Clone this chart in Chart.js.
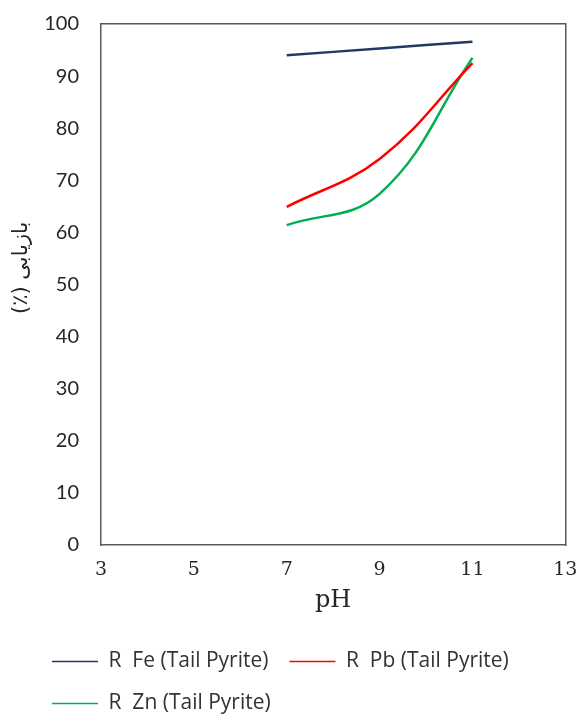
<!DOCTYPE html>
<html>
<head>
<meta charset="utf-8">
<script src="https://cdn.jsdelivr.net/npm/chart.js@4/dist/chart.umd.min.js"></script>
<style>
  html, body { margin: 0; padding: 0; background: #fff; overflow: hidden; }
  #wrap { position: absolute; left: 0; top: -10px; width: 591px; height: 728px; }
</style>
</head>
<body>
<div id="wrap"><canvas id="chart"></canvas></div>
<script>
// pH-Werte und Ausbeuten
const phWerte = [7, 9, 11];
const feAusbeute = [94.0, 95.3, 96.6];
const pbAusbeute = [64.9, 74.1, 92.5];
const znAusbeute = [61.4, 67.4, 93.5];

const serienNamen = ["R  Fe (Tail Pyrite)", "R  Pb (Tail Pyrite)", "R  Zn (Tail Pyrite)"];
const serienFarben = ["#1f3864", "#ff0000", "#00b050"];

const xTicks = [3, 5, 7, 9, 11, 13];
const yTicks = [0, 10, 20, 30, 40, 50, 60, 70, 80, 90, 100];

// Achsentitel rechts-nach-links (RLE ... PDF), vorne Leerzeichen zum Verschieben
const yTitel = "     \u202Bبازیابی (٪)\u202C";

function punkte(werte) {
  return phWerte.map(function (ph, i) {
    return { x: ph, y: werte[i] };
  });
}

const alleWerte = [feAusbeute, pbAusbeute, znAusbeute];
const datasets = alleWerte.map(function (werte, i) {
  return {
    label: serienNamen[i],
    data: punkte(werte),
    borderColor: serienFarben[i],
    backgroundColor: serienFarben[i],
    borderWidth: 2.5,
    showLine: true,
    pointRadius: 0,
    tension: 0.4,
  };
});

// Legende nach links schieben wie im Original
const legendeVerschieben = {
  id: "legendeVerschieben",
  afterLayout(chart) {
    chart.legend.left = 31;
  },
};

const rahmen = "#595959";

new Chart(document.querySelector("#chart"), {
  type: "scatter",
  data: { datasets: datasets },
  plugins: [legendeVerschieben],
  options: {
    responsive: true,
    maintainAspectRatio: false,
    animation: false,
    layout: { padding: { left: 9, right: 6, top: 2, bottom: -6 } },
    plugins: {
      tooltip: { enabled: false },
      legend: {
        position: "bottom",
        align: "start",
        labels: {
          usePointStyle: true,
          pointStyle: "line",
          pointStyleWidth: 46,
          padding: 21,
          color: "#333333",
          font: { family: "Open Sans", size: 21 },
          generateLabels(chart) {
            const items = Chart.defaults.plugins.legend.labels.generateLabels(chart);
            items.forEach(function (item) {
              item.lineWidth = 1.5;
            });
            return items;
          },
        },
      },
    },
    scales: {
      x: {
        type: "linear",
        min: 3,
        max: 13,
        afterBuildTicks(axis) {
          axis.ticks = xTicks.map(function (v) { return { value: v }; });
        },
        grid: { display: false, drawTicks: false },
        border: { display: true, color: rahmen, width: 1.5 },
        ticks: {
          padding: 13.6,
          color: "#262626",
          font: { family: "DejaVu Serif", size: 19 },
        },
        title: {
          display: true,
          text: "pH",
          color: "#262626",
          padding: { top: -8.4, bottom: 14.6 },
          font: { family: "DejaVu Serif", size: 24 },
        },
      },
      xOben: {
        type: "linear",
        position: "top",
        min: 3,
        max: 13,
        grid: { display: false, drawTicks: false },
        border: { display: true, color: rahmen, width: 1.5 },
        ticks: { display: false },
      },
      y: {
        min: 0,
        max: 100,
        afterBuildTicks(axis) {
          axis.ticks = yTicks.map(function (v) { return { value: v }; });
        },
        grid: { display: false, drawTicks: false },
        border: { display: true, color: rahmen, width: 1.5 },
        ticks: {
          padding: 22,
          color: "#262626",
          font: { family: "Lato", size: 20 },
        },
        title: {
          display: true,
          text: yTitel,
          color: "#262626",
          padding: { top: 0, bottom: -12 },
          font: { family: "DejaVu Sans", size: 21 },
        },
      },
      yRechts: {
        position: "right",
        min: 0,
        max: 100,
        grid: { display: false, drawTicks: false },
        border: { display: true, color: rahmen, width: 1.5 },
        ticks: { display: false },
      },
    },
  },
});
</script>
</body>
</html>
